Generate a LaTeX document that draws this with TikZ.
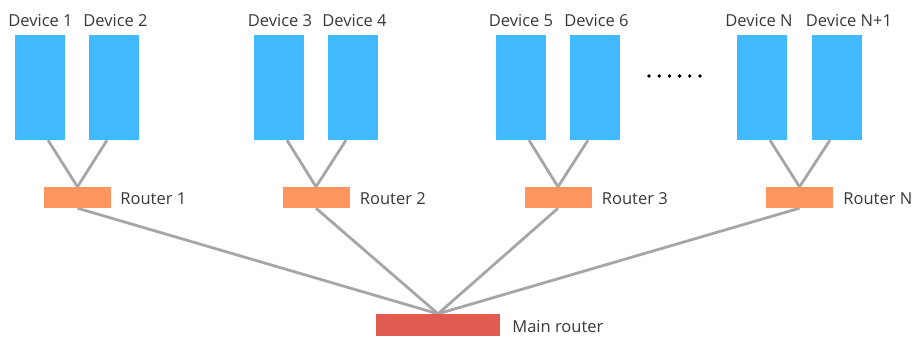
\documentclass[tikz,border=0pt]{standalone}
\usepackage{fontspec}
\setmainfont{Open Sans}
\usetikzlibrary{calc}
\definecolor{devblue}{HTML}{41B9FE}
\definecolor{routerorange}{HTML}{FF955E}
\definecolor{mainred}{HTML}{E15B50}
\definecolor{linegray}{HTML}{A6A6A6}
\definecolor{txt}{HTML}{383838}
\begin{document}
\begin{tikzpicture}[x=1pt,y=-1pt,
  device/.style={fill=devblue, minimum width=50pt, minimum height=105pt, inner sep=0pt},
  router/.style={fill=routerorange, minimum width=67pt, minimum height=21pt, inner sep=0pt},
  mainr/.style={fill=mainred, minimum width=124pt, minimum height=22pt, inner sep=0pt},
  lbl/.style={text=txt, font=\fontsize{16.5}{18}\selectfont, inner sep=0pt},
  link/.style={draw=linegray, line width=2.8pt},
  dot/.style={fill=black}]
\useasboundingbox (0,0) rectangle (914,338);

\node[router] (r1) at (77.5,197.5) {};
\node[router] (r2) at (316,197.5) {};
\node[router] (r3) at (558,197.5) {};
\node[router] (rn) at (799.5,197.5) {};
\node[mainr] (m) at (438,325) {};

\node[device] (d1) at (40,87.5) {};
\node[device] (d2) at (114,87.5) {};
\node[device] (d3) at (279,87.5) {};
\node[device] (d4) at (353,87.5) {};
\node[device] (d5) at (521,87.5) {};
\node[device] (d6) at (595,87.5) {};
\node[device] (dn) at (762,87.5) {};
\node[device] (dn1) at (837,87.5) {};

\draw[link] ($(d1.south)+(8,0)$) -- (r1.north);
\draw[link] ($(d2.south)+(-7,0)$) -- (r1.north);
\draw[link] ($(d3.south)+(8,0)$) -- (r2.north);
\draw[link] ($(d4.south)+(-7,0)$) -- (r2.north);
\draw[link] ($(d5.south)+(8,0)$) -- (r3.north);
\draw[link] ($(d6.south)+(-7,0)$) -- (r3.north);
\draw[link] ($(dn.south)+(8,0)$) -- (rn.north);
\draw[link] ($(dn1.south)+(-7,0)$) -- (rn.north);
\draw[link] (r1.south) -- (m.north);
\draw[link] (r2.south) -- (m.north);
\draw[link] (r3.south) -- (m.north);
\draw[link] (rn.south) -- (m.north);

% redraw shapes over the link ends
\node[router] at (r1) {};
\node[router] at (r2) {};
\node[router] at (r3) {};
\node[router] at (rn) {};
\node[mainr] at (m) {};

% device labels
\node[lbl, anchor=base] (l1) at (40.5,26) {Device 1};
\node[lbl, anchor=base] (l2) at (115.5,26) {Device 2};
\node[lbl, anchor=base] (l3) at (280,26) {Device 3};
\node[lbl, anchor=base] (l4) at (354.5,26) {Device 4};
\node[lbl, anchor=base] (l5) at (521,26) {Device 5};
\node[lbl, anchor=base] (l6) at (596.5,26) {Device 6};
\node[lbl, anchor=base] (ln) at (759,26) {Device N};
\node[lbl, anchor=base] (ln1) at (849,26) {Device N+1};

% router labels
\node[lbl, anchor=base west] (lr1) at ($(r1.east)+(9,6.5)$) {Router 1};
\node[lbl, anchor=base west] (lr2) at ($(r2.east)+(10,6.5)$) {Router 2};
\node[lbl, anchor=base west] (lr3) at ($(r3.east)+(10,6.5)$) {Router 3};
\node[lbl, anchor=base west] (lrn) at ($(rn.east)+(10,6.5)$) {Router N};
\node[lbl, anchor=base west] (lm) at ($(m.east)+(12,7)$) {Main router};

% ellipsis dots
\foreach \i in {0,...,5} {
  \fill[dot] (649+\i*10.2,76) circle (1.9pt);
}
\end{tikzpicture}
\end{document}
